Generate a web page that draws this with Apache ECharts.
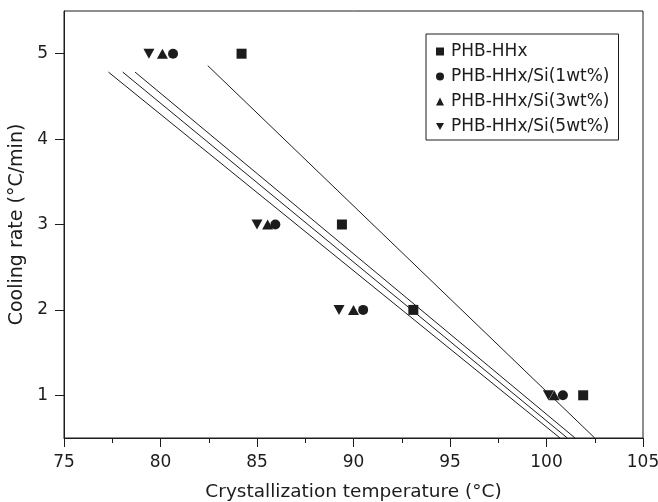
<!DOCTYPE html>
<html><head><meta charset="utf-8">
<script src="https://cdn.jsdelivr.net/npm/echarts@6/dist/echarts.min.js"></script>
<style>html,body{margin:0;padding:0;background:#fff}#c{width:658px;height:502px}</style>
</head><body><div id="c"></div>
<script>
var coolingRates = [5, 3, 2, 1];
var tempPHB = [84.2, 89.4, 93.1, 101.9];
var tempSi1 = [80.65, 85.95, 90.5, 100.85];
var tempSi3 = [80.1, 85.55, 90.0, 100.4];
var tempSi5 = [79.4, 85.0, 89.25, 100.1];
var seriesNames = ['PHB-HHx', 'PHB-HHx/Si(1wt%)', 'PHB-HHx/Si(3wt%)', 'PHB-HHx/Si(5wt%)'];
// fitted lines, endpoints: [x1, y1, x2, y2]
var fitPHB = [82.45, 4.86, 102.5, 0.5];
var fitSi1 = [78.68, 4.785, 101.48, 0.5];
var fitSi3 = [78.04, 4.785, 101.08, 0.5];
var fitSi5 = [77.3, 4.785, 100.7, 0.5];
var xTicks = [75, 80, 85, 90, 95, 100, 105];
var yTicks = [1, 2, 3, 4, 5];

var ink = '#1c1c1c';
var font = 'DejaVu Sans, Liberation Sans, Arial, sans-serif';
function pts(xs) { return xs.map(function (x, i) { return [x, coolingRates[i]]; }); }
function seg(f) { return [[f[0], f[1]], [f[2], f[3]]]; }
var downTri = 'path://M0,0 L10,0 L5,9 Z';
var syms = ['rect', 'circle', 'triangle', downTri];
var sizes = [10, 10, [11, 10], [11, 10]];
var temps = [tempPHB, tempSi1, tempSi3, tempSi5];
var fits = [fitPHB, fitSi1, fitSi3, fitSi5];
var series = [];
fits.forEach(function (f, i) {
  series.push({ type: 'line', name: 'fit' + i, data: seg(f), showSymbol: false, silent: true,
    lineStyle: { color: ink, width: 1 }, z: 1 });
});
temps.forEach(function (t, i) {
  series.push({ type: 'scatter', name: seriesNames[i], data: pts(t), symbol: syms[i],
    symbolSize: sizes[i], itemStyle: { color: ink, opacity: 1 }, z: 3 });
});
var chart = echarts.init(document.getElementById('c'), null, { renderer: 'canvas' });
chart.setOption({
  animation: false,
  backgroundColor: '#fff',
  grid: { left: 64, top: 11, right: 15, bottom: 64, show: true, borderColor: ink, borderWidth: 1,
    containLabel: false, outerBoundsMode: 'none' },
  legend: {
    data: seriesNames.map(function (n, i) { return { name: n, icon: i === 3 ? downTri : syms[i] }; }),
    orient: 'vertical', left: 426, top: 34,
    padding: [9, 9, 5, 10],
    itemWidth: 8, itemHeight: 8, itemGap: 8,
    borderColor: ink, borderWidth: 1,
    textStyle: { fontFamily: font, fontSize: 17, color: ink, padding: [0, 0, 0, 2] },
    itemStyle: { color: ink }
  },
  xAxis: {
    type: 'value', min: xTicks[0], max: xTicks[xTicks.length - 1], interval: 5,
    name: 'Crystallization temperature (°C)', nameLocation: 'middle', nameGap: 45,
    nameTextStyle: { fontFamily: font, fontSize: 18.5, color: ink },
    axisLine: { show: true, lineStyle: { color: ink, width: 1 } },
    axisTick: { show: true, inside: false, length: 9, lineStyle: { color: ink } },
    minorTick: { show: true, splitNumber: 2, length: 5, lineStyle: { color: ink } },
    axisLabel: { fontFamily: font, fontSize: 17, color: ink, margin: 16 },
    splitLine: { show: false }
  },
  yAxis: {
    type: 'value', min: 0.5, max: 5.5,
    name: 'Cooling rate (°C/min)', nameLocation: 'middle', nameGap: 36, nameRotate: 90,
    nameTextStyle: { fontFamily: font, fontSize: 19, color: ink },
    axisLine: { show: true, lineStyle: { color: ink, width: 1 } },
    axisTick: { show: true, inside: false, length: 9, lineStyle: { color: ink }, customValues: yTicks },
    axisLabel: { fontFamily: font, fontSize: 17, color: ink, margin: 16, customValues: yTicks },
    splitLine: { show: false }
  },
  series: series
});
</script></body></html>
